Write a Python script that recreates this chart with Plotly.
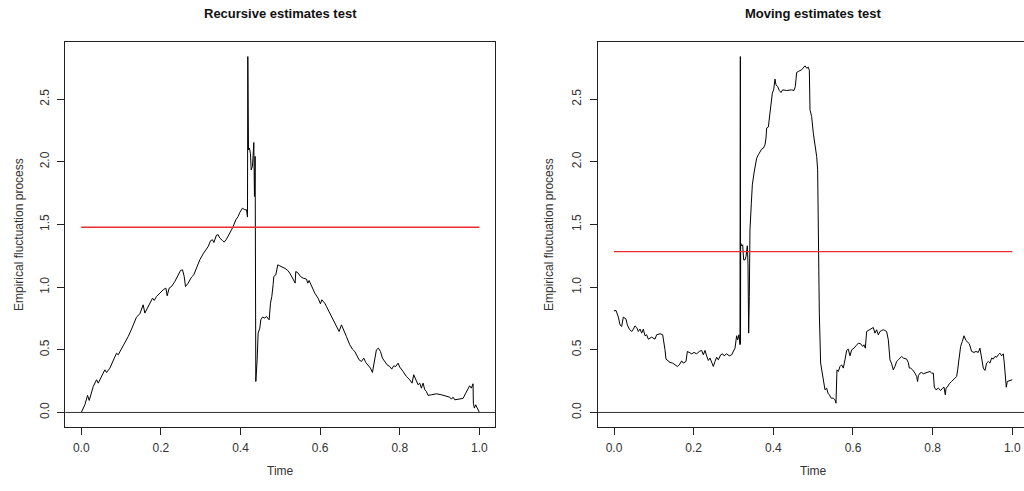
import plotly.graph_objects as go

# Recursive estimates (RE) empirical fluctuation process
re_time = [
    0.0, 0.0092, 0.0159, 0.0201, 0.0301, 0.0385, 0.0427, 0.0469, 0.0552, 0.0594,
    0.0636, 0.0720, 0.0803, 0.0887, 0.0929, 0.1013, 0.1096, 0.1180, 0.1264, 0.1347,
    0.1389, 0.1473, 0.1515, 0.1556, 0.1598, 0.1657, 0.1724, 0.1791, 0.1833, 0.1891,
    0.1975, 0.2059, 0.2126, 0.2159, 0.2209, 0.2268, 0.2351, 0.2435, 0.2494, 0.2544,
    0.2586, 0.2619, 0.2686, 0.2770, 0.2828, 0.2895, 0.2979, 0.3063, 0.3130, 0.3188,
    0.3247, 0.3297, 0.3331, 0.3397, 0.3439, 0.3481, 0.3548, 0.3590, 0.3649, 0.3715,
    0.3774, 0.3816, 0.3883, 0.3941, 0.3983, 0.4050, 0.4109, 0.4151, 0.4176, 0.4184,
    0.4201, 0.4226, 0.4251, 0.4268, 0.4301, 0.4335, 0.4351, 0.4368, 0.4377, 0.4385,
    0.4418, 0.4444, 0.4485, 0.4510, 0.4552, 0.4611, 0.4653, 0.4720, 0.4753, 0.4787,
    0.4820, 0.4837, 0.4887, 0.4921, 0.4937, 0.4987, 0.5054, 0.5121, 0.5188, 0.5238,
    0.5322, 0.5372, 0.5389, 0.5448, 0.5506, 0.5573, 0.5657, 0.5690, 0.5724, 0.5782,
    0.5866, 0.5950, 0.6008, 0.6042, 0.6117, 0.6159, 0.6243, 0.6326, 0.6410, 0.6477,
    0.6536, 0.6594, 0.6661, 0.6745, 0.6812, 0.6870, 0.6912, 0.6979, 0.7038, 0.7096,
    0.7146, 0.7205, 0.7264, 0.7314, 0.7372, 0.7414, 0.7464, 0.7515, 0.7565, 0.7623,
    0.7682, 0.7749, 0.7799, 0.7849, 0.7900, 0.7958, 0.8000, 0.8084, 0.8167, 0.8251,
    0.8310, 0.8351, 0.8402, 0.8460, 0.8502, 0.8544, 0.8586, 0.8628, 0.8669, 0.8711,
    0.8795, 0.8921, 0.9046, 0.9172, 0.9255, 0.9297, 0.9339, 0.9381, 0.9464, 0.9590,
    0.9657, 0.9715, 0.9757, 0.9799, 0.9841, 0.9849, 0.9874, 0.9908, 0.9941, 0.9975,
    1.0,
]
re_value = [
    0.000, 0.061, 0.136, 0.096, 0.207, 0.261, 0.234, 0.266, 0.314, 0.340,
    0.319, 0.354, 0.407, 0.473, 0.460, 0.505, 0.553, 0.606, 0.665, 0.726,
    0.761, 0.787, 0.832, 0.859, 0.793, 0.832, 0.872, 0.912, 0.894, 0.926,
    0.952, 0.979, 0.992, 0.931, 0.992, 1.005, 1.045, 1.098, 1.133, 1.138,
    1.085, 1.005, 1.032, 1.080, 1.098, 1.152, 1.218, 1.266, 1.303, 1.324,
    1.370, 1.378, 1.356, 1.415, 1.418, 1.391, 1.372, 1.359, 1.383, 1.418,
    1.457, 1.484, 1.537, 1.564, 1.596, 1.630, 1.617, 1.617, 1.559, 2.840,
    2.096, 2.109, 2.064, 1.936, 1.963, 2.154, 1.723, 2.043, 0.886, 0.247,
    0.420, 0.633, 0.673, 0.739, 0.761, 0.753, 0.766, 0.739, 0.872, 0.926,
    1.019, 1.085, 1.098, 1.138, 1.178, 1.170, 1.160, 1.149, 1.133, 1.112,
    1.064, 1.032, 1.125, 1.112, 1.085, 1.072, 1.064, 1.032, 1.053, 1.005,
    0.952, 0.912, 0.867, 0.899, 0.872, 0.846, 0.793, 0.739, 0.686, 0.646,
    0.699, 0.660, 0.606, 0.540, 0.505, 0.487, 0.460, 0.420, 0.407, 0.434,
    0.399, 0.380, 0.354, 0.319, 0.420, 0.500, 0.513, 0.487, 0.434, 0.407,
    0.380, 0.367, 0.346, 0.372, 0.367, 0.394, 0.362, 0.327, 0.287, 0.261,
    0.234, 0.301, 0.261, 0.221, 0.234, 0.194, 0.234, 0.181, 0.168, 0.136,
    0.141, 0.149, 0.141, 0.133, 0.122, 0.106, 0.122, 0.101, 0.106, 0.112,
    0.154, 0.194, 0.213, 0.194, 0.229, 0.074, 0.035, 0.061, 0.035, 0.013,
    0.000,
]

# Moving estimates (ME) empirical fluctuation process
me_time = [
    0.0000, 0.0050, 0.0109, 0.0151, 0.0192, 0.0234, 0.0301, 0.0335, 0.0385, 0.0444,
    0.0485, 0.0527, 0.0569, 0.0611, 0.0653, 0.0695, 0.0736, 0.0778, 0.0820, 0.0862,
    0.0946, 0.1029, 0.1071, 0.1155, 0.1222, 0.1255, 0.1280, 0.1305, 0.1364, 0.1406,
    0.1473, 0.1531, 0.1590, 0.1640, 0.1699, 0.1741, 0.1808, 0.1841, 0.1891, 0.1950,
    0.2008, 0.2075, 0.2142, 0.2201, 0.2243, 0.2285, 0.2326, 0.2368, 0.2410, 0.2452,
    0.2494, 0.2536, 0.2577, 0.2619, 0.2678, 0.2728, 0.2762, 0.2828, 0.2895, 0.2954,
    0.2996, 0.3038, 0.3079, 0.3105, 0.3138, 0.3163, 0.3172, 0.3176, 0.3180, 0.3205,
    0.3230, 0.3255, 0.3289, 0.3314, 0.3331, 0.3347, 0.3364, 0.3381, 0.3397, 0.3414,
    0.3448, 0.3473, 0.3515, 0.3556, 0.3582, 0.3623, 0.3665, 0.3707, 0.3749, 0.3791,
    0.3816, 0.3833, 0.3874, 0.3916, 0.3941, 0.3975, 0.4008, 0.4042, 0.4067, 0.4109,
    0.4151, 0.4192, 0.4234, 0.4335, 0.4460, 0.4519, 0.4552, 0.4586, 0.4628, 0.4711,
    0.4795, 0.4837, 0.4879, 0.4904, 0.4921, 0.4962, 0.5004, 0.5046, 0.5088, 0.5113,
    0.5130, 0.5155, 0.5188, 0.5230, 0.5255, 0.5297, 0.5339, 0.5372, 0.5406, 0.5456,
    0.5506, 0.5548, 0.5573, 0.5598, 0.5632, 0.5674, 0.5715, 0.5757, 0.5799, 0.5841,
    0.5883, 0.5925, 0.5967, 0.6025, 0.6075, 0.6134, 0.6192, 0.6243, 0.6276, 0.6310,
    0.6343, 0.6385, 0.6427, 0.6469, 0.6510, 0.6552, 0.6594, 0.6636, 0.6678, 0.6720,
    0.6762, 0.6803, 0.6845, 0.6887, 0.6929, 0.6971, 0.7013, 0.7054, 0.7096, 0.7138,
    0.7180, 0.7222, 0.7264, 0.7347, 0.7389, 0.7414, 0.7448, 0.7498, 0.7556, 0.7598,
    0.7623, 0.7640, 0.7682, 0.7724, 0.7766, 0.7849, 0.7933, 0.7975, 0.8017, 0.8042,
    0.8084, 0.8142, 0.8201, 0.8251, 0.8285, 0.8318, 0.8335, 0.8368, 0.8418, 0.8477,
    0.8519, 0.8561, 0.8603, 0.8628, 0.8669, 0.8703, 0.8745, 0.8787, 0.8837, 0.8870,
    0.8921, 0.8979, 0.9038, 0.9088, 0.9146, 0.9188, 0.9230, 0.9272, 0.9314, 0.9356,
    0.9397, 0.9439, 0.9481, 0.9523, 0.9565, 0.9607, 0.9649, 0.9690, 0.9732, 0.9774,
    0.9799, 0.9824, 0.9849, 0.9874, 0.9925, 1.0000,
]
me_value = [
    0.811, 0.814, 0.761, 0.699, 0.686, 0.761, 0.745, 0.699, 0.665, 0.646,
    0.665, 0.691, 0.678, 0.646, 0.665, 0.633, 0.665, 0.612, 0.620, 0.585,
    0.601, 0.585, 0.620, 0.628, 0.620, 0.566, 0.500, 0.426, 0.407, 0.399,
    0.394, 0.380, 0.367, 0.380, 0.412, 0.394, 0.407, 0.487, 0.479, 0.468,
    0.479, 0.468, 0.487, 0.495, 0.460, 0.495, 0.452, 0.415, 0.434, 0.407,
    0.367, 0.407, 0.441, 0.420, 0.460, 0.468, 0.452, 0.468, 0.452, 0.460,
    0.487, 0.513, 0.612, 0.580, 0.620, 0.540, 2.840, 0.550, 1.351, 1.330,
    1.338, 1.218, 1.218, 1.245, 1.324, 1.330, 1.191, 0.633, 0.926, 1.457,
    1.670, 1.816, 1.910, 2.003, 2.029, 2.056, 2.082, 2.101, 2.109, 2.136,
    2.189, 2.269, 2.277, 2.415, 2.463, 2.548, 2.574, 2.660, 2.614, 2.601,
    2.569, 2.553, 2.574, 2.569, 2.574, 2.569, 2.601, 2.713, 2.721, 2.734,
    2.766, 2.747, 2.755, 2.729, 2.415, 2.362, 2.229, 2.149, 2.043, 1.936,
    1.457, 0.793, 0.394, 0.314, 0.261, 0.181, 0.194, 0.154, 0.141, 0.114,
    0.114, 0.101, 0.074, 0.340, 0.327, 0.367, 0.380, 0.354, 0.420, 0.495,
    0.505, 0.452, 0.500, 0.513, 0.532, 0.553, 0.548, 0.527, 0.540, 0.513,
    0.646, 0.654, 0.660, 0.665, 0.678, 0.633, 0.660, 0.620, 0.646, 0.654,
    0.660, 0.654, 0.646, 0.580, 0.420, 0.388, 0.340, 0.367, 0.407, 0.420,
    0.434, 0.447, 0.434, 0.426, 0.399, 0.354, 0.354, 0.340, 0.314, 0.287,
    0.247, 0.293, 0.314, 0.319, 0.309, 0.319, 0.327, 0.314, 0.314, 0.202,
    0.181, 0.194, 0.176, 0.194, 0.202, 0.141, 0.194, 0.202, 0.229, 0.247,
    0.261, 0.274, 0.287, 0.340, 0.434, 0.527, 0.566, 0.612, 0.574, 0.566,
    0.548, 0.487, 0.479, 0.487, 0.479, 0.513, 0.420, 0.354, 0.335, 0.394,
    0.407, 0.394, 0.434, 0.426, 0.447, 0.441, 0.460, 0.473, 0.452, 0.468,
    0.394, 0.261, 0.202, 0.247, 0.255, 0.261,
]

# 5% critical boundaries
boundary_time = [0.0, 1.0]
re_boundary = [1.478, 1.478]
me_boundary = [1.284, 1.284]

titles = ["Recursive estimates test", "Moving estimates test"]
x_label = "Time"
y_label = "Empirical fluctuation process"
x_ticks = [0.0, 0.2, 0.4, 0.6, 0.8, 1.0]
x_tick_text = ["0.0", "0.2", "0.4", "0.6", "0.8", "1.0"]
y_ticks = [0.0, 0.5, 1.0, 1.5, 2.0, 2.5]
y_tick_text = ["0.0", "0.5", "1.0", "1.5", "2.0", "2.5"]

W, H = 1024, 491
FONT = "Liberation Sans, Arial, Helvetica, sans-serif"
TXT = "#333333"
BOUND_RED = "#ee2b30"

fig = go.Figure()

fig.add_trace(go.Scatter(x=re_time, y=re_value, mode="lines",
                         line=dict(color="black", width=1.0),
                         xaxis="x", yaxis="y", hoverinfo="skip"))
fig.add_trace(go.Scatter(x=boundary_time, y=re_boundary, mode="lines",
                         line=dict(color=BOUND_RED, width=1.3),
                         xaxis="x", yaxis="y", hoverinfo="skip"))
fig.add_trace(go.Scatter(x=me_time, y=me_value, mode="lines",
                         line=dict(color="black", width=1.0),
                         xaxis="x2", yaxis="y2", hoverinfo="skip"))
fig.add_trace(go.Scatter(x=boundary_time, y=me_boundary, mode="lines",
                         line=dict(color=BOUND_RED, width=1.3),
                         xaxis="x2", yaxis="y2", hoverinfo="skip"))

# panel geometry in pixels (plot box)
left_box = (65.3, 495.3)
right_box = (598.0, 1024.0)
top_px, bot_px = 42.3, 426.7
y_dom = [1 - bot_px / H, 1 - top_px / H]
y_range = [-0.1136, 2.9536]

xa_common = dict(
    tickmode="array", tickvals=x_ticks, ticktext=x_tick_text,
    ticks="outside", ticklen=7, tickwidth=1, tickcolor="#222",
    showline=True, linecolor="#222", linewidth=1, mirror=True,
    showgrid=False, zeroline=False, ticklabelstandoff=3,
    tickfont=dict(family=FONT, size=12, color=TXT),
)
ya_common = dict(
    tickmode="array", tickvals=y_ticks, ticktext=y_tick_text,
    ticks="outside", ticklen=7, tickwidth=1, tickcolor="#222",
    showline=True, linecolor="#222", linewidth=1,
    showgrid=False, zeroline=False, tickangle=-90, ticklabelstandoff=4,
    tickfont=dict(family=FONT, size=12, color=TXT),
    range=y_range, domain=y_dom,
)

fig.update_layout(
    width=W, height=H,
    margin=dict(l=0, r=0, t=0, b=0),
    paper_bgcolor="white", plot_bgcolor="white",
    showlegend=False,
    xaxis=dict(xa_common, domain=[left_box[0] / W, left_box[1] / W],
               range=[-0.04, 1.04], anchor="y"),
    yaxis=dict(ya_common, mirror=True, anchor="x"),
    xaxis2=dict(xa_common, domain=[right_box[0] / W, right_box[1] / W],
                range=[-0.0402, 1.0294], anchor="y2"),
    yaxis2=dict(ya_common, mirror=False, anchor="x2"),
)

# horizontal reference line at zero across each panel
for xr, yr in (("x", "y"), ("x2", "y2")):
    fig.add_shape(type="line", xref=f"{xr} domain", x0=0, x1=1,
                  yref=yr, y0=0, y1=0, line=dict(color="#333", width=1))

annotations = []
for box, title in zip((left_box, right_box), titles):
    cx = (box[0] + box[0] + 430) / 2 / W
    annotations.append(dict(text=f"<b>{title}</b>", xref="paper", yref="paper",
                            x=cx, y=1 - 13.5 / H, xanchor="center", yanchor="middle",
                            showarrow=False,
                            font=dict(family=FONT, size=13, color="#111")))
    annotations.append(dict(text=x_label, xref="paper", yref="paper",
                            x=cx, y=1 - 470.5 / H, xanchor="center", yanchor="middle",
                            showarrow=False,
                            font=dict(family=FONT, size=12, color=TXT)))
for xpx in (18.5, 548.5):
    annotations.append(dict(text=y_label, xref="paper", yref="paper",
                            x=xpx / W, y=1 - (top_px + bot_px) / 2 / H,
                            xanchor="center", yanchor="middle", textangle=-90,
                            showarrow=False,
                            font=dict(family=FONT, size=12, color=TXT)))
fig.update_layout(annotations=annotations)

fig.write_html("out.html")
